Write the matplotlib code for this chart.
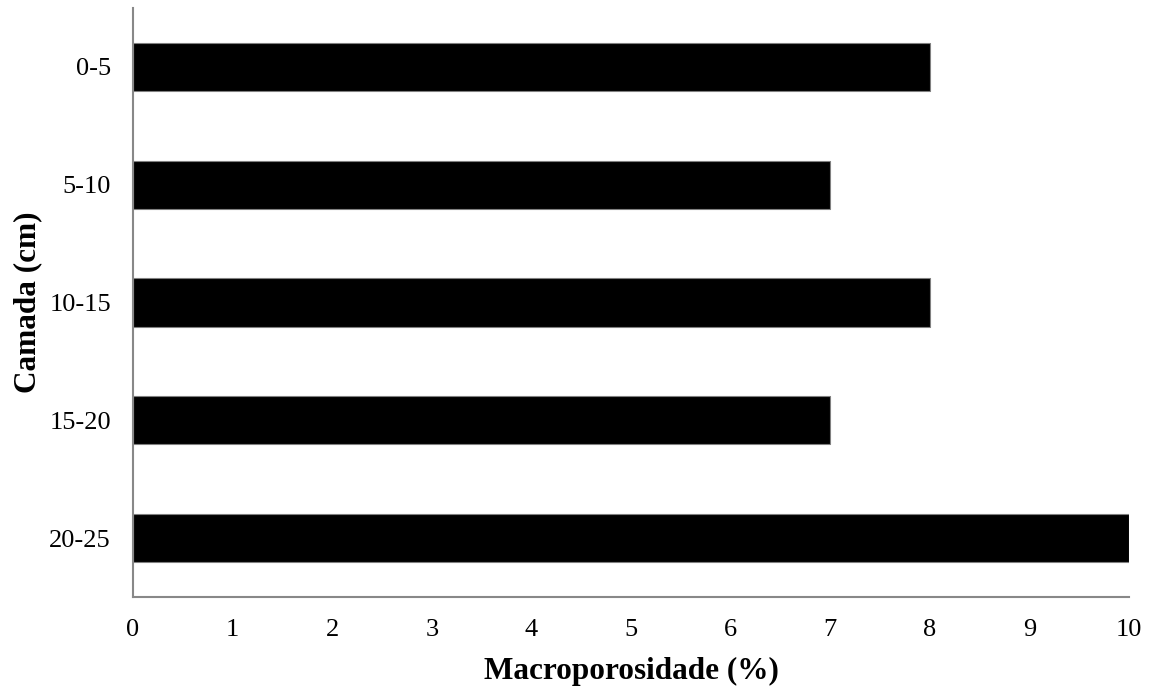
import matplotlib
matplotlib.use('Agg')
from matplotlib import pyplot as plt

# layers (cm) and macroporosity (%)
camadas = ['0-5', '5-10', '10-15', '15-20', '20-25']
macro = [8, 7, 8, 7, 10]
xticks = [0, 1, 2, 3, 4, 5, 6, 7, 8, 9, 10]

plt.rcParams['font.family'] = ['Liberation Serif', 'DejaVu Serif']

fig = plt.figure(figsize=(11.51, 6.88), dpi=100)
ax = fig.add_axes([0.1156, 0.1323, 0.8654, 0.8561])

ax.barh(range(len(camadas)), macro, height=0.41, color='black',
        edgecolor='#808080', linewidth=0.8)
ax.set_yticks(range(len(camadas)))
ax.set_yticklabels(camadas)
ax.set_ylim(len(camadas) - 0.5, -0.5)
ax.set_xlim(0, 10)
ax.set_xticks(xticks)

for s in ['top', 'right']:
    ax.spines[s].set_visible(False)
for s in ['left', 'bottom']:
    ax.spines[s].set_color('#888888')
    ax.spines[s].set_linewidth(1.5)

ax.tick_params(axis='both', length=0, labelsize=19, pad=16)
ax.set_xlabel('Macroporosidade (%)', fontsize=22.5, fontweight='bold', labelpad=11)
ax.set_ylabel('Camada (cm)', fontsize=22.5, fontweight='bold', labelpad=5)

fig.savefig('out.png', dpi=100)
